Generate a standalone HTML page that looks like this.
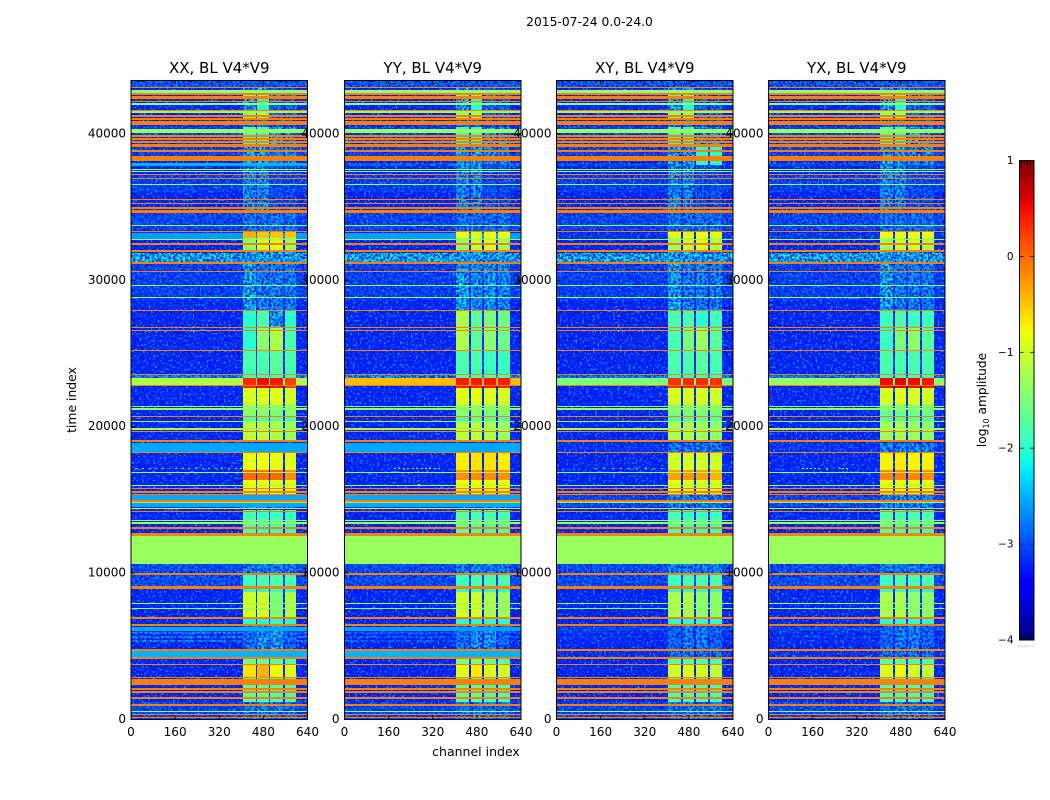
<!DOCTYPE html>
<html lang="en">
<head>
<meta charset="utf-8">
<title>2015-07-24 waterfall plots</title>
<style>
html,body{margin:0;padding:0;background:#fff;}
svg{display:block;}
text{font-family:"DejaVu Sans","Liberation Sans",sans-serif;fill:#000;}
</style>
</head>
<body>
<svg id="chart" xmlns="http://www.w3.org/2000/svg" width="1050" height="800" viewBox="0 0 1050 800">
  <defs>
    <filter id="speckle-0" x="0" y="0" width="100%" height="100%" color-interpolation-filters="sRGB"><feTurbulence type="fractalNoise" baseFrequency="0.42" numOctaves="2" seed="3" result="n1"/><feColorMatrix in="n1" type="matrix" values="0 0 0 0 0  0 0 0 0 0.08  0 0 0 0 0.88  3.6 0 0 0 -1.35" result="dark"/><feTurbulence type="fractalNoise" baseFrequency="0.45" numOctaves="2" seed="5" result="n2"/><feColorMatrix in="n2" type="matrix" values="0 0 0 0 0  0 0 0 0 0.62  0 0 0 0 1  5 0 0 0 -2.75" result="light"/><feMerge><feMergeNode in="dark"/><feMergeNode in="light"/></feMerge></filter>
    <filter id="speckle-1" x="0" y="0" width="100%" height="100%" color-interpolation-filters="sRGB"><feTurbulence type="fractalNoise" baseFrequency="0.42" numOctaves="2" seed="11" result="n1"/><feColorMatrix in="n1" type="matrix" values="0 0 0 0 0  0 0 0 0 0.08  0 0 0 0 0.88  3.6 0 0 0 -1.35" result="dark"/><feTurbulence type="fractalNoise" baseFrequency="0.45" numOctaves="2" seed="13" result="n2"/><feColorMatrix in="n2" type="matrix" values="0 0 0 0 0  0 0 0 0 0.62  0 0 0 0 1  5 0 0 0 -2.75" result="light"/><feMerge><feMergeNode in="dark"/><feMergeNode in="light"/></feMerge></filter>
    <filter id="speckle-2" x="0" y="0" width="100%" height="100%" color-interpolation-filters="sRGB"><feTurbulence type="fractalNoise" baseFrequency="0.42" numOctaves="2" seed="23" result="n1"/><feColorMatrix in="n1" type="matrix" values="0 0 0 0 0  0 0 0 0 0.08  0 0 0 0 0.88  3.6 0 0 0 -1.35" result="dark"/><feTurbulence type="fractalNoise" baseFrequency="0.45" numOctaves="2" seed="29" result="n2"/><feColorMatrix in="n2" type="matrix" values="0 0 0 0 0  0 0 0 0 0.62  0 0 0 0 1  5 0 0 0 -2.75" result="light"/><feMerge><feMergeNode in="dark"/><feMergeNode in="light"/></feMerge></filter>
    <filter id="speckle-3" x="0" y="0" width="100%" height="100%" color-interpolation-filters="sRGB"><feTurbulence type="fractalNoise" baseFrequency="0.42" numOctaves="2" seed="37" result="n1"/><feColorMatrix in="n1" type="matrix" values="0 0 0 0 0  0 0 0 0 0.08  0 0 0 0 0.88  3.6 0 0 0 -1.35" result="dark"/><feTurbulence type="fractalNoise" baseFrequency="0.45" numOctaves="2" seed="41" result="n2"/><feColorMatrix in="n2" type="matrix" values="0 0 0 0 0  0 0 0 0 0.62  0 0 0 0 1  5 0 0 0 -2.75" result="light"/><feMerge><feMergeNode in="dark"/><feMergeNode in="light"/></feMerge></filter>
    <linearGradient id="jet-gradient" x1="0" y1="1" x2="0" y2="0"></linearGradient>
  </defs>
  <text x="589.5" y="26" font-size="12.3" text-anchor="middle">2015-07-24 0.0-24.0</text>
  <text x="476" y="756" font-size="12.5" text-anchor="middle">channel index</text>
  <text x="76" y="400" font-size="12.4" text-anchor="middle" transform="rotate(-90 76 400)">time index</text>
  <g id="panels"></g>
  <g id="labels"></g>
  <g id="colorbar"></g>
  <text x="986" y="400" font-size="12.2" text-anchor="middle" transform="rotate(-90 986 400)">log<tspan font-size="8" dy="3">10</tspan><tspan dy="-3"> amplitude</tspan></text>
</svg>
<script>
// ---------- data ----------
const panelTitles = ['XX, BL V4*V9', 'YY, BL V4*V9', 'XY, BL V4*V9', 'YX, BL V4*V9'];
const xTicks = [0, 160, 320, 480, 640];
const yTicks = [0, 10000, 20000, 30000, 40000];
const colorbarTicks = [1, 0, -1, -2, -3, -4];
const backgroundAmp = -3.2;

// Full-width background bands [startTime, endTime]
const bandTimes = [
  [43200,43650],[38210,40530],[37800,38010],[36030,37170],[33430,34600],[32800,33210],[31230,31840],[28650,31110],
  [23320,23530],[22850,23320],[18290,18910],[14990,15330],[14490,14770],[9000,10620],[6070,6340],[5850,5980],
  [5570,5710],[5290,5430],[4250,4700],[0,1190]
];
const bandAmpsXX = [-2.8,-3.0,-2.5,-3.0,-2.95,-2.6,-2.1,-3.0,-2.5,-1.2,-2.55,-2.55,-2.55,-2.9,-2.55,-2.55,-2.55,-2.55,-2.5,-2.95];
const bandAmpsYY = [-2.8,-3.0,-2.7,-3.0,-2.95,-2.6,-2.1,-3.0,-2.4,-0.45,-2.55,-2.55,-2.55,-2.9,-2.6,-2.8,-2.8,-2.8,-2.5,-2.95];
const bandAmpsXY = [-2.8,-3.0,-2.9,-3.0,-2.95,-3.1,-2.1,-3.0,-2.6,-1.5,-3.1,-2.95,-2.95,-2.9,-2.9,-3.1,-3.1,-3.1,-3.1,-2.95];
const bandAmpsYX = [-2.8,-3.0,-2.9,-3.0,-2.95,-3.05,-2.1,-3.0,-2.6,-1.35,-3.1,-2.95,-2.95,-2.9,-2.9,-3.1,-3.1,-3.1,-3.1,-2.95];
// Bands that read as smooth rather than speckled
const smoothBands = [2,5,9,10,11,12,14,18];

// Four spectral windows, [startChannel, endChannel]
const windowChannels = [[406,452],[457,500],[505,551],[557,599]];
// Time segments for the spectral windows [startTime, endTime]
const segmentTimes = [
  [42650,43200],[42380,42650],[41420,42380],[41010,41420],[40460,41010],[39240,40460],[37870,39100],[34800,37870],
  [33360,34590],[32890,33290],[32070,32890],[31310,31930],[27970,31240],[26810,27970],[25240,26810],[23600,25240],
  [23320,23530],[22640,23320],[21480,22640],[20730,21480],[20320,20730],[19090,20320],[18270,18880],[17040,18270],
  [16360,17040],[15400,16360],[14380,15330],[12740,14310],[9940,10620],[9050,9940],[8710,8980],[7000,8710],
  [6520,6860],[4750,6390],[4270,4680],[3790,4200],[2900,3790],[1190,2900],[0,1190]
];
const segmentAmpsXX = [
  [-2.3,-2.3,-2.9,-2.9],[-1.6,-1.5,-2.4,-2.5],[-2.2,-2.0,-2.7,-2.7],[-1.4,-1.3,-2.7,-2.7],[-2.6,-2.6,-2.9,-2.9],[-1.8,-1.9,-2.2,-2.4],[-2.2,-2.2,-2.5,-2.5],[-2.4,-2.4,-2.9,-2.9],
  [-2.6,-2.6,-2.6,-2.6],[-0.4,-0.5,-0.5,-0.5],[-1.4,-1.0,-0.9,-1.3],[-2.2,-2.2,-2.2,-2.2],[-2.2,-2.5,-2.5,-2.5],[-2.0,-1.8,-2.2,-2.0],[-2.0,-1.4,-1.2,-1.8],[-1.8,-1.8,-1.7,-1.8],
  [-1.9,-1.9,-1.9,-1.9],[0.35,0.5,0.45,0.2],[-0.95,-0.9,-0.9,-1.0],[-1.4,-1.4,-1.5,-1.4],[-1.8,-1.7,-1.7,-1.8],[-1.1,-1.1,-1.2,-1.3],[-2.4,-2.4,-2.4,-2.4],[-0.85,-0.8,-0.85,-0.9],
  [0.0,-0.05,0.0,-0.2],[-0.8,-0.8,-0.9,-0.8],[-2.3,-2.3,-2.3,-2.3],[-1.8,-1.9,-1.9,-1.9],[-2.5,-2.5,-2.5,-2.5],[-1.9,-1.8,-1.8,-1.8],[-2.0,-2.0,-2.0,-2.0],[-1.0,-1.0,-1.5,-1.2],
  [-2.0,-2.0,-2.0,-2.0],[-2.6,-2.3,-2.3,-2.7],[-2.3,-2.3,-2.3,-2.3],[-1.6,-1.6,-1.7,-1.8],[-0.65,-0.4,-0.8,-0.9],[-1.7,-1.7,-1.8,-1.8],[-2.6,-2.5,-2.6,-2.6]
];
const segmentAmpsYY = [
  [-2.3,-2.3,-2.9,-2.9],[-1.6,-1.5,-2.4,-2.5],[-2.2,-2.0,-2.7,-2.7],[-1.4,-1.3,-2.7,-2.7],[-2.6,-2.6,-2.9,-2.9],[-1.9,-1.9,-2.2,-2.4],[-2.2,-2.2,-2.5,-2.5],[-2.4,-2.4,-2.9,-2.9],
  [-2.6,-2.6,-2.6,-2.6],[-0.8,-0.9,-0.8,-0.8],[-1.4,-1.1,-1.0,-1.3],[-2.2,-2.2,-2.2,-2.2],[-2.2,-2.4,-2.3,-2.4],[-1.2,-1.7,-1.5,-1.6],[-1.2,-1.7,-1.4,-1.6],[-1.8,-1.8,-1.9,-1.9],
  [-1.8,-1.8,-1.8,-1.8],[0.42,0.42,0.45,0.4],[-0.9,-0.85,-0.9,-0.95],[-1.4,-1.4,-1.5,-1.4],[-1.8,-1.7,-1.7,-1.8],[-1.1,-1.1,-1.2,-1.3],[-2.4,-2.4,-2.4,-2.4],[-0.7,-0.65,-0.65,-0.7],
  [-0.2,-0.2,-0.2,-0.2],[-0.75,-0.75,-0.8,-0.8],[-2.3,-2.3,-2.3,-2.3],[-1.7,-1.8,-1.8,-1.8],[-2.5,-2.5,-2.5,-2.5],[-1.9,-1.8,-1.8,-1.8],[-2.0,-2.0,-2.0,-2.0],[-1.0,-1.0,-1.2,-1.3],
  [-2.0,-2.0,-2.0,-2.0],[-2.6,-2.3,-2.3,-2.7],[-2.3,-2.3,-2.3,-2.3],[-1.5,-1.5,-1.6,-1.7],[-0.9,-0.7,-0.9,-1.0],[-1.7,-1.7,-1.8,-1.8],[-2.6,-2.5,-2.6,-2.6]
];
const segmentAmpsXY = [
  [-2.3,-2.3,-2.9,-2.9],[-1.6,-1.5,-2.4,-2.5],[-2.2,-2.0,-2.7,-2.7],[-1.4,-1.3,-2.7,-2.7],[-2.6,-2.6,-2.9,-2.9],[-1.8,-1.9,-2.3,-2.4],[-2.2,-2.2,-2.0,-2.0],[-2.4,-2.4,-2.9,-2.9],
  [-2.6,-2.6,-2.6,-2.6],[-0.85,-0.85,-0.8,-0.85],[-1.3,-1.1,-0.95,-1.2],[-2.2,-2.2,-2.2,-2.2],[-2.2,-2.5,-2.5,-2.5],[-1.8,-1.8,-2.0,-1.9],[-1.8,-1.5,-1.3,-1.7],[-1.8,-1.8,-1.7,-1.8],
  [-1.9,-1.9,-1.9,-1.9],[0.3,0.35,0.35,0.3],[-0.95,-0.95,-0.95,-1.0],[-1.5,-1.5,-1.5,-1.5],[-1.8,-1.7,-1.7,-1.8],[-1.2,-1.2,-1.3,-1.4],[-2.5,-2.5,-2.5,-2.5],[-1.0,-0.95,-1.0,-1.0],
  [-0.3,-0.25,-0.3,-0.4],[-0.85,-0.85,-0.9,-0.9],[-2.5,-2.5,-2.5,-2.5],[-1.8,-1.9,-1.9,-1.9],[-2.5,-2.5,-2.5,-2.5],[-1.9,-1.8,-1.8,-1.8],[-2.0,-2.0,-2.0,-2.0],[-1.2,-1.2,-1.4,-1.4],
  [-2.0,-2.0,-2.0,-2.0],[-2.7,-2.5,-2.5,-2.7],[-2.6,-2.6,-2.6,-2.6],[-1.7,-1.7,-1.8,-1.8],[-1.0,-0.9,-1.0,-1.1],[-1.8,-1.8,-1.8,-1.9],[-2.6,-2.5,-2.6,-2.6]
];
const segmentAmpsYX = [
  [-2.3,-2.3,-2.9,-2.9],[-1.6,-1.5,-2.4,-2.5],[-2.2,-2.0,-2.7,-2.7],[-1.4,-1.3,-2.7,-2.7],[-2.6,-2.6,-2.9,-2.9],[-1.8,-1.9,-2.2,-2.4],[-2.2,-2.2,-2.3,-2.3],[-2.4,-2.4,-2.9,-2.9],
  [-2.6,-2.6,-2.6,-2.6],[-0.8,-0.85,-0.8,-0.8],[-1.3,-1.1,-1.0,-1.2],[-2.2,-2.2,-2.2,-2.2],[-2.2,-2.5,-2.5,-2.5],[-1.9,-1.8,-1.9,-1.9],[-1.9,-1.5,-1.4,-1.7],[-1.8,-1.8,-1.8,-1.8],
  [-1.9,-1.9,-1.9,-1.9],[0.5,0.55,0.5,0.45],[-0.95,-0.9,-0.95,-1.0],[-1.6,-1.6,-1.6,-1.6],[-1.8,-1.7,-1.7,-1.8],[-1.25,-1.25,-1.3,-1.4],[-2.4,-2.4,-2.4,-2.4],[-0.75,-0.7,-0.75,-0.75],
  [-0.15,-0.15,-0.15,-0.2],[-0.8,-0.8,-0.85,-0.85],[-2.4,-2.4,-2.4,-2.4],[-1.7,-1.8,-1.8,-1.8],[-2.5,-2.5,-2.5,-2.5],[-1.9,-1.8,-1.8,-1.8],[-2.0,-2.0,-2.0,-2.0],[-1.2,-1.2,-1.4,-1.4],
  [-2.0,-2.0,-2.0,-2.0],[-2.7,-2.5,-2.5,-2.7],[-2.6,-2.6,-2.6,-2.6],[-1.7,-1.7,-1.8,-1.8],[-0.95,-0.85,-1.0,-1.1],[-1.8,-1.8,-1.8,-1.9],[-2.6,-2.5,-2.6,-2.6]
];

// Flagged rows: thick spans and single-row lines
const orangeAmp = -0.12;
const limeAmp = -1.32;
const orangeSpans = [[42380,42600],[41420,41620],[40620,40900],[39100,39300],[34590,34800],[33280,33400],[32380,32520],[31950,32070],[31120,31240],[18930,19060],[12560,12750],[6840,6990],[6390,6530],[1380,1530]];
const limeSpans = [[42820,43010],[10620,12560]];
const orangeLines = [43150,42720,42200,41220,41020,39850,39650,39440,38830,38420,38320,38210,37240,36970,35540,35270,34930,30610,27950,26760,26550,25220,23580,22830,20710,19680,18250,15760,15540,15380,14920,14220,13080,9940,9070,8980,4750,4200,3770,2880,2700,2560,2430,2080,1880,990,360,150];
const limeLines = [42040,41490,40260,40130,37590,37450,36560,33760,32800,29650,28840,21360,21200,20370,19840,16880,16000,14810,14420,13600,13420,7940,7600,560];

// Isolated hot pixels [channel, time]
const spotsXX = [[224,28000],[224,27600],[224,26800],[224,26500],[12,300]];
const spotsYY = [[190,28500],[185,42000],[185,41800],[268,16000]];
const spotsXY = [[224,28000],[224,27600],[224,26800],[224,26500],[185,42000]];
const spotsYX = [[224,28000],[224,27600],[224,26800],[224,26500],[185,42000]];
// Dotted interference row: time, and channels
const dottedTime = 17160;
const dottedChannelsXX = [16,40,64,88,112,136,160,184,208,232,256,280,304,328,352,376,396,612,628];
const dottedChannelsYY = [180,196,212,228,244,260,276,292,308,324,340];
const dottedChannelsXY = [140,170,200,230,260,290,320,350,380];
const dottedChannelsYX = [120,135,150,165,180,210,255,265,280];

const allBandAmps = [bandAmpsXX, bandAmpsYY, bandAmpsXY, bandAmpsYX];
const allSegmentAmps = [segmentAmpsXX, segmentAmpsYY, segmentAmpsXY, segmentAmpsYX];
const allSpots = [spotsXX, spotsYY, spotsXY, spotsYX];
const allDotted = [dottedChannelsXX, dottedChannelsYY, dottedChannelsXY, dottedChannelsYX];

// ---------- layout and scales ----------
const NS = 'http://www.w3.org/2000/svg';
const panelLefts = [131, 344.5, 556.5, 768.5];
const panelWidth = 176.5;
const plotTop = 80.5, plotBottom = 719.5;
const channelMax = 640, timeMax = 43650;
const lineHalfSpan = 45;
const speckledCutoff = -2.05;
const smoothCutoff = -2.7;
const xScale = (left, ch) => left + ch / channelMax * panelWidth;
const yScale = t => plotBottom - t / timeMax * (plotBottom - plotTop);
const ampMin = -4, ampMax = 1;

function channel(t, pts) {
  for (let i = 1; i < pts.length; i++) {
    if (t <= pts[i][0]) {
      const a = pts[i - 1], b = pts[i];
      return a[1] + (b[1] - a[1]) * (t - a[0]) / (b[0] - a[0]);
    }
  }
  return pts[pts.length - 1][1];
}
function jet(amp) {
  const t = Math.max(0, Math.min(1, (amp - ampMin) / (ampMax - ampMin)));
  const r = channel(t, [[0,0],[0.35,0],[0.66,1],[0.89,1],[1,0.5]]);
  const g = channel(t, [[0,0],[0.125,0],[0.375,1],[0.64,1],[0.91,0],[1,0]]);
  const b = channel(t, [[0,0.5],[0.11,1],[0.34,1],[0.65,0],[1,0]]);
  return 'rgb(' + Math.round(r * 255) + ',' + Math.round(g * 255) + ',' + Math.round(b * 255) + ')';
}
function make(tag, attrs, parent) {
  const el = document.createElementNS(NS, tag);
  for (const k in attrs) el.setAttribute(k, attrs[k]);
  parent.appendChild(el);
  return el;
}
function cell(parent, left, ch0, ch1, t0, t1, amp) {
  const yA = Math.round(yScale(t1)), yB = Math.round(yScale(t0));
  const xA = Math.round(xScale(left, ch0)), xB = Math.round(xScale(left, ch1));
  return make('rect', {
    x: xA, y: yA,
    width: Math.max(xB - xA, 1),
    height: Math.max(yB - yA, 1),
    fill: jet(amp), 'shape-rendering': 'crispEdges'
  }, parent);
}

const panelsRoot = document.getElementById('panels');
const labelsRoot = document.getElementById('labels');
const panelKeys = ['xx', 'yy', 'xy', 'yx'];

panelLefts.forEach((left, p) => {
  const key = panelKeys[p];
  const g = make('g', {}, panelsRoot);
  
  

  const clip = make('clipPath', { id: 'clip-' + p }, g);
  make('rect', { x: left, y: plotTop, width: panelWidth, height: plotBottom - plotTop }, clip);
  const body = make('g', { 'clip-path': 'url(#clip-' + p + ')' }, g);
  
  

  // background
  const bg = cell(body, left, 0, channelMax, 0, timeMax, backgroundAmp);
  
  

  const isSmooth = i => smoothBands.includes(i) && allBandAmps[p][i] > smoothCutoff;

  // speckled full-width bands
  bandTimes.forEach((span, i) => {
    if (!isSmooth(i)) {
      const band = cell(body, left, 0, channelMax, span[0], span[1], allBandAmps[p][i]);
      
      
    }
  });

  // faint spectral windows underneath the speckle
  segmentTimes.forEach((span, i) => {
    windowChannels.forEach((w, j) => {
      const amp = allSegmentAmps[p][i][j];
      if (amp < speckledCutoff) {
        const c = cell(body, left, w[0], w[1], span[0], span[1], amp);
        
        
      }
    });
  });

  // speckle texture
  const noise = make('rect', { x: left, y: plotTop, width: panelWidth, height: plotBottom - plotTop, filter: 'url(#speckle-' + p + ')' }, body);
  
  

  // smooth full-width bands
  bandTimes.forEach((span, i) => {
    if (isSmooth(i)) {
      const band = cell(body, left, 0, channelMax, span[0], span[1], allBandAmps[p][i]);
      
      
    }
  });

  // bright spectral windows
  segmentTimes.forEach((span, i) => {
    windowChannels.forEach((w, j) => {
      const amp = allSegmentAmps[p][i][j];
      if (amp >= speckledCutoff) {
        const c = cell(body, left, w[0], w[1], span[0], span[1], amp);
        
        
      }
    });
  });

  // flagged rows
  limeSpans.forEach(span => {
    const r = cell(body, left, 0, channelMax, span[0], span[1], limeAmp);
    
    
  });
  orangeSpans.forEach(span => {
    const r = cell(body, left, 0, channelMax, span[0], span[1], orangeAmp);
    
    
  });
  limeLines.forEach(t => {
    const r = cell(body, left, 0, channelMax, t - lineHalfSpan, t + lineHalfSpan, limeAmp);
    
    
  });
  orangeLines.forEach(t => {
    const r = cell(body, left, 0, channelMax, t - lineHalfSpan, t + lineHalfSpan, orangeAmp);
    
    
  });

  // spots
  allSpots[p].forEach(s => {
    const r = cell(body, left, s[0], s[0] + 4, s[1], s[1] + 60, limeAmp + 0.3);
    
    
  });
  allDotted[p].forEach(ch => {
    const r = cell(body, left, ch, ch + 7, dottedTime, dottedTime + 40, limeAmp);
    
    
  });

  // frame
  const frame = make('rect', { x: left, y: plotTop, width: panelWidth, height: plotBottom - plotTop, fill: 'none', stroke: '#000', 'stroke-width': 1 }, g);
  
  

  // ticks
  xTicks.forEach(v => {
    const x = xScale(left, v);
    const t1 = make('line', { x1: x, x2: x, y1: plotBottom, y2: plotBottom - 4, stroke: '#000', 'stroke-width': 0.8 }, g);
    
    
    const t2 = make('line', { x1: x, x2: x, y1: plotTop, y2: plotTop + 4, stroke: '#000', 'stroke-width': 0.8 }, g);
    
    
    const lab = make('text', { x: x, y: 736, 'font-size': 12, 'text-anchor': 'middle' }, labelsRoot);
    lab.textContent = String(v);
    
    
  });
  yTicks.forEach(v => {
    const y = yScale(v);
    const t1 = make('line', { x1: left, x2: left + 4, y1: y, y2: y, stroke: '#000', 'stroke-width': 0.8 }, g);
    
    
    const t2 = make('line', { x1: left + panelWidth, x2: left + panelWidth - 4, y1: y, y2: y, stroke: '#000', 'stroke-width': 0.8 }, g);
    
    
    const lab = make('text', { x: left - 5, y: y + 3.5, 'font-size': 12, 'text-anchor': 'end' }, labelsRoot);
    lab.textContent = String(v);
    
    
  });

  const title = make('text', { x: left + panelWidth / 2, y: 73, 'font-size': 15, 'text-anchor': 'middle' }, labelsRoot);
  title.textContent = panelTitles[p];
  
  
});

// ---------- colorbar ----------
const cbRoot = document.getElementById('colorbar');
const cbLeft = 1019.5, cbRight = 1034, cbTop = 160.5, cbBottom = 640;
const cbY = amp => cbBottom - (amp - ampMin) / (ampMax - ampMin) * (cbBottom - cbTop);
const grad = document.getElementById('jet-gradient');
for (let i = 0; i <= 64; i++) {
  const amp = ampMin + (ampMax - ampMin) * i / 64;
  make('stop', { offset: i / 64, 'stop-color': jet(amp) }, grad);
}
const cbRect = make('rect', { x: cbLeft, y: cbTop, width: cbRight - cbLeft, height: cbBottom - cbTop, fill: 'url(#jet-gradient)', stroke: '#000', 'stroke-width': 1 }, cbRoot);


colorbarTicks.forEach(v => {
  const y = cbY(v);
  const a = make('line', { x1: cbLeft, x2: cbLeft + 4, y1: y, y2: y, stroke: '#000', 'stroke-width': 0.8 }, cbRoot);
  
  
  const b = make('line', { x1: cbRight, x2: cbRight - 4, y1: y, y2: y, stroke: '#000', 'stroke-width': 0.8 }, cbRoot);
  
  
  const lab = make('text', { x: 1013.5, y: y + 3.5, 'font-size': 10.5, 'text-anchor': 'end' }, cbRoot);
  lab.textContent = String(v).replace('-', '\u2212');
  
  
});
const cbMinor = [2, 5, 8, 11];
cbMinor.forEach(dx => {
  const a = make('line', { x1: cbLeft + dx, x2: cbLeft + dx, y1: cbTop, y2: cbTop + 5, stroke: '#000', 'stroke-width': 0.7 }, cbRoot);
  
  
  const b = make('line', { x1: cbLeft + dx, x2: cbLeft + dx, y1: cbBottom, y2: cbBottom - 5, stroke: '#000', 'stroke-width': 0.7 }, cbRoot);
  
  
});
const cbDots = make('line', { x1: 1018, x2: 1035, y1: 646, y2: 646, stroke: '#999', 'stroke-width': 1, 'stroke-dasharray': '1 2' }, cbRoot);


</script>
</body>
</html>
